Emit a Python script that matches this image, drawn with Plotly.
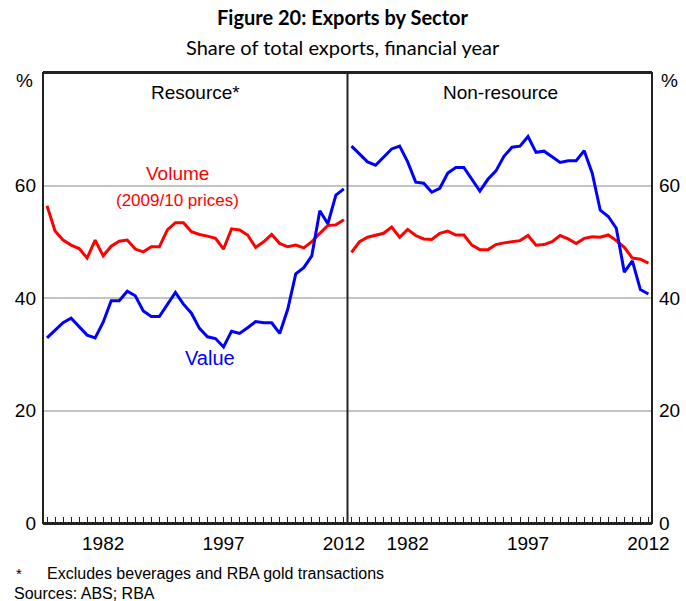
import plotly.graph_objects as go

years = list(range(1975, 2013))

res_volume = [56.4, 51.9, 50.3, 49.4, 48.8, 47.1, 50.3, 47.5, 49.2, 50.1,
              50.3, 48.7, 48.2, 49.1, 49.1, 52.1, 53.4, 53.4, 51.8, 51.3,
              51.0, 50.6, 48.7, 52.3, 52.1, 51.2, 49.0, 50.0, 51.3, 49.7,
              49.1, 49.4, 48.9, 50.0, 51.5, 52.9, 53.0, 53.9]
res_value = [32.9, 34.3, 35.6, 36.4, 34.9, 33.4, 32.9, 35.7, 39.5, 39.5,
             41.2, 40.4, 37.7, 36.7, 36.7, 38.9, 41.0, 38.9, 37.3, 34.6,
             33.1, 32.8, 31.3, 34.1, 33.7, 34.7, 35.8, 35.6, 35.6, 33.7,
             38.0, 44.3, 45.4, 47.5, 55.5, 53.2, 58.3, 59.4]
nonres_value = [67.0, 65.6, 64.2, 63.6, 65.1, 66.5, 67.0, 64.2, 60.6, 60.4,
                58.8, 59.5, 62.2, 63.2, 63.2, 61.1, 59.0, 61.1, 62.6, 65.2,
                66.8, 67.0, 68.7, 65.9, 66.1, 65.1, 64.1, 64.4, 64.4, 66.2,
                62.2, 55.6, 54.5, 52.4, 44.6, 46.6, 41.5, 40.7]
nonres_volume = [48.1, 50.0, 50.8, 51.2, 51.5, 52.6, 50.8, 52.2, 51.1, 50.5,
                 50.4, 51.5, 51.9, 51.2, 51.2, 49.4, 48.6, 48.6, 49.5, 49.8,
                 50.0, 50.2, 51.1, 49.4, 49.5, 50.0, 51.1, 50.5, 49.7, 50.6,
                 50.9, 50.8, 51.2, 50.2, 49.0, 47.1, 46.9, 46.2]

labelled_years = [1982, 1997, 2012]
y_ticks = [0, 20, 40, 60]

RED = "#ff0000"
BLUE = "#0000ff"
FRAME = "#222222"
AX = "Liberation Sans, Arial, sans-serif"
TITLE_FONT = "Lato, sans-serif"

fig = go.Figure()
fig.add_trace(go.Scatter(x=years, y=res_volume, mode="lines", line=dict(color=RED, width=3),
                         xaxis="x", yaxis="y", showlegend=False))
fig.add_trace(go.Scatter(x=years, y=res_value, mode="lines", line=dict(color=BLUE, width=3),
                         xaxis="x", yaxis="y", showlegend=False))
fig.add_trace(go.Scatter(x=years, y=nonres_volume, mode="lines", line=dict(color=RED, width=3),
                         xaxis="x2", yaxis="y2", showlegend=False))
fig.add_trace(go.Scatter(x=years, y=nonres_value, mode="lines", line=dict(color=BLUE, width=3),
                         xaxis="x2", yaxis="y2", showlegend=False))

ticktext = [str(y) if y in labelled_years else "" for y in years]
xcommon = dict(range=[years[0] - 0.5, years[-1] + 0.45], tickmode="array", tickvals=years,
               ticktext=ticktext, ticks="inside", ticklen=6, tickwidth=1, tickcolor=FRAME,
               showline=True, linecolor=FRAME, linewidth=1.5, mirror=True, showgrid=False,
               zeroline=False,
               tickfont=dict(family=AX, size=19, color="#000"), ticklabelstandoff=2)
ycommon = dict(range=[0, 80], tickmode="array", tickvals=y_ticks, showgrid=True,
               gridcolor="#c4c4c4", gridwidth=1.5, zeroline=False, showline=False,
               ticks="",
               tickfont=dict(family=AX, size=19, color="#000"), ticklabelstandoff=6)

# the page is 686 px wide; the figure is slightly wider so the plot area
# ends at x=652 after the right-hand tick labels reserve their margin
fig.update_layout(
    width=698, height=601,
    margin=dict(l=43, r=46, t=73, b=78),
    paper_bgcolor="white", plot_bgcolor="white",
    xaxis=dict(domain=[0, 0.5], anchor="y", **xcommon),
    xaxis2=dict(domain=[0.5, 1], anchor="y2", **xcommon),
    yaxis=dict(anchor="x", side="left", **ycommon),
    yaxis2=dict(anchor="x2", side="right", **ycommon),
)

# panel frame and divider
fig.add_shape(type="rect", xref="paper", yref="paper", x0=0, x1=1, y0=0, y1=1,
              line=dict(color=FRAME, width=2), layer="above")
fig.add_shape(type="line", xref="paper", yref="paper", x0=0.5, x1=0.5, y0=0, y1=1,
              line=dict(color=FRAME, width=2), layer="above")


def ypaper(py):
    return (523 - py) / 450.0


def xpaper(px):
    return (px - 43) / 609.0


def note(text, px, py, size, color="#000", family=AX, xanchor="center"):
    fig.add_annotation(text=text, xref="paper", yref="paper", x=xpaper(px), y=ypaper(py),
                       xanchor=xanchor, yanchor="middle", showarrow=False,
                       font=dict(family=family, size=size, color=color))


note("<b>Figure 20: Exports by Sector</b>", 343, 17, 20, family=TITLE_FONT)
note("Share of total exports, financial year", 343, 47, 20, family=TITLE_FONT)
note("Resource*", 195, 93, 19)
note("Non-resource", 500, 93, 19)
note("%", 24, 80, 19)
note("%", 669, 80, 19)
note("*", 14, 573, 15, xanchor="left")
note("Excludes beverages and RBA gold transactions", 45, 573, 16, xanchor="left")
note("Sources: ABS; RBA", 12, 593, 16, xanchor="left")

fig.add_annotation(text="Volume", xref="x", yref="y", x=1991.2, y=62.2, showarrow=False,
                   font=dict(family=AX, size=19, color=RED))
fig.add_annotation(text="(2009/10 prices)", xref="x", yref="y", x=1991.3, y=57.4, showarrow=False,
                   font=dict(family=AX, size=17, color=RED))
fig.add_annotation(text="Value", xref="x", yref="y", x=1995.3, y=29.3, showarrow=False,
                   font=dict(family=AX, size=20, color=BLUE))

fig.write_html("out.html", config={"displayModeBar": False},
               post_script="document.body.style.margin='0';document.body.style.overflow='hidden';")
